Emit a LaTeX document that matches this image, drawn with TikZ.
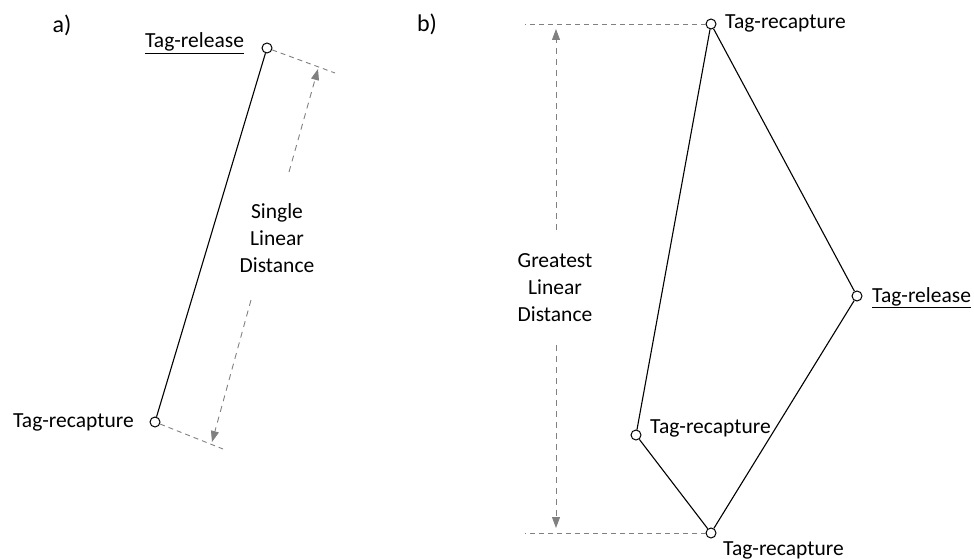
\documentclass[tikz,border=0pt]{standalone}
\usepackage{fontspec}
\setmainfont{Carlito}
\usetikzlibrary{arrows.meta}
\definecolor{dimgray}{RGB}{128,128,128}
\begin{document}
\begin{tikzpicture}[x=1pt,y=-1pt,
  pt/.style={circle,draw=black,fill=white,line width=1pt,inner sep=0pt,minimum size=10pt},
  lbl/.style={inner sep=0pt,font=\fontsize{21.5}{27}\selectfont},
  plbl/.style={inner sep=0pt,font=\fontsize{24}{29}\selectfont},
  seg/.style={line width=1.1pt,black},
  ext/.style={draw=dimgray,line width=0.9pt,dash pattern=on 5pt off 4pt},
  meas/.style={draw=dimgray,line width=0.9pt,dash pattern=on 6pt off 5pt},
  tipend/.style={-{Triangle[length=11pt,width=8pt]},dimgray}]
\useasboundingbox (0,0) rectangle (974,559);
% panel labels
\node[plbl] (la) at (62,25) {a)};
\node[plbl] (lb) at (427,24) {b)};
% ---- panel a ----
\node[pt] (ar) at (267,48) {};
\node[pt] (ac) at (155,422) {};
\coordinate (are) at (335,73);
\coordinate (ace) at (223,449);
\draw[ext] (ar) -- (are);
\draw[ext] (ac) -- (ace);
\draw[seg] (ar) -- (ac);
\node[lbl,anchor=base west] (tra) at (145,48) {\underline{Tag-release}};
\node[lbl,anchor=base west] (tca) at (13,427) {Tag-recapture};
\node[lbl,align=center] (sld) at (277,238) {Single\\Linear\\Distance};
\coordinate (aup1) at (289,172);
\coordinate (aup2) at (318,69);
\coordinate (adn1) at (251,300);
\coordinate (adn2) at (212,442);
\draw[meas,tipend] (aup1) -- (aup2);
\draw[meas,tipend] (adn1) -- (adn2);
% ---- panel b ----
\node[pt] (bt) at (711,24) {};
\node[pt] (br) at (857,296) {};
\node[pt] (bm) at (636,435) {};
\node[pt] (bb) at (711,533) {};
\coordinate (bte) at (525,24);
\coordinate (bbe) at (525,533);
\draw[ext] (bt) -- (bte);
\draw[ext] (bb) -- (bbe);
\draw[seg] (bt) -- (br) -- (bb) -- (bm) -- (bt);
\node[lbl,anchor=base west] (tcb1) at (725,29) {Tag-recapture};
\node[lbl,anchor=base west] (trb) at (872,302) {\underline{Tag-release}};
\node[lbl,anchor=base west] (tcb2) at (650,433) {Tag-recapture};
\node[lbl,anchor=base west] (tcb3) at (723,555) {Tag-recapture};
\node[lbl,align=center] (gld) at (555,288) {Greatest\\Linear\\Distance};
\coordinate (bup1) at (556,230);
\coordinate (bup2) at (556,29);
\coordinate (bdn1) at (556,345);
\coordinate (bdn2) at (556,528);
\draw[meas,tipend] (bup1) -- (bup2);
\draw[meas,tipend] (bdn1) -- (bdn2);
\end{tikzpicture}
\end{document}
